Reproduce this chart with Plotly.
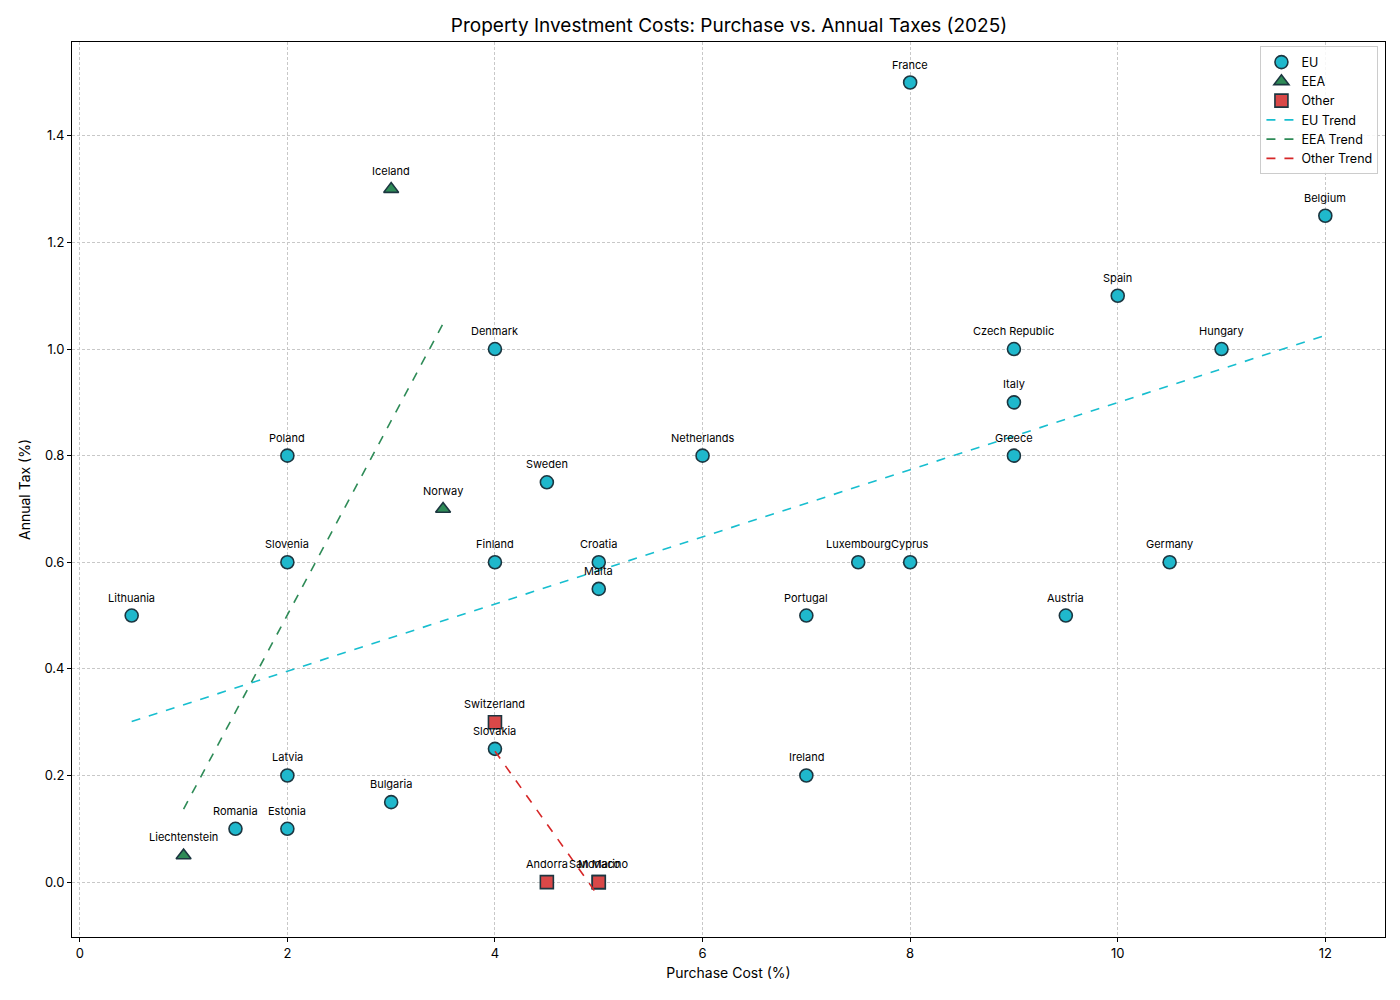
import numpy as np
import plotly.graph_objects as go

# --- data ---
EU_NAMES = [
    "France", "Belgium", "Spain", "Czech Republic", "Hungary", "Italy", "Greece",
    "Denmark", "Poland", "Netherlands", "Sweden", "Slovenia", "Finland", "Croatia",
    "Malta", "Luxembourg", "Cyprus", "Germany", "Lithuania", "Portugal", "Austria",
    "Slovakia", "Latvia", "Ireland", "Bulgaria", "Romania", "Estonia",
]
EU_PURCHASE = [8, 12, 10, 9, 11, 9, 9, 4, 2, 6, 4.5, 2, 4, 5, 5, 7.5, 8, 10.5,
               0.5, 7, 9.5, 4, 2, 7, 3, 1.5, 2]
EU_TAX = [1.5, 1.25, 1.1, 1.0, 1.0, 0.9, 0.8, 1.0, 0.8, 0.8, 0.75, 0.6, 0.6, 0.6,
          0.55, 0.6, 0.6, 0.6, 0.5, 0.5, 0.5, 0.25, 0.2, 0.2, 0.15, 0.1, 0.1]

EEA_NAMES = ["Iceland", "Norway", "Liechtenstein"]
EEA_PURCHASE = [3, 3.5, 1]
EEA_TAX = [1.3, 0.7, 0.05]

OTHER_NAMES = ["Switzerland", "Andorra", "San Marino", "Monaco"]
OTHER_PURCHASE = [4, 4.5, 5, 5]
OTHER_TAX = [0.3, 0.0, 0.0, 0.0]

FONT = "Inter"
EDGE = "#1c3640"
GROUPS = [
    ("EU", EU_NAMES, EU_PURCHASE, EU_TAX, "circle", "#1fb8cc", "#17becf"),
    ("EEA", EEA_NAMES, EEA_PURCHASE, EEA_TAX, "triangle-up", "#2e8b57", "#2e8b57"),
    ("Other", OTHER_NAMES, OTHER_PURCHASE, OTHER_TAX, "square", "#d94848", "#d62728"),
]

fig = go.Figure()
annotations = []

for name, labels, xs, ys, symbol, color, _ in GROUPS:
    fig.add_trace(go.Scatter(
        x=xs, y=ys, mode="markers", name=name,
        marker=dict(symbol=symbol, size=13, color=color,
                    line=dict(color=EDGE, width=1.6)),
        text=labels, hovertemplate="%{text}<br>%{x}% / %{y}%<extra></extra>",
    ))
    # country names sit just above each marker (San Marino / Monaco share a spot)
    for lbl, x, y in zip(labels, xs, ys):
        annotations.append(dict(
            x=x, y=y, text=lbl, showarrow=False, yshift=18,
            font=dict(size=11, color="black", family=FONT),
        ))

# linear trend per group
for name, _, xs, ys, _, _, line_color in GROUPS:
    slope, icpt = np.polyfit(xs, ys, 1)
    tx = np.array([min(xs), max(xs)])
    fig.add_trace(go.Scatter(
        x=tx, y=slope * tx + icpt, mode="lines", name=f"{name} Trend",
        line=dict(color=line_color, width=1.6, dash="dash"),
        hoverinfo="skip",
    ))

axis_common = dict(
    showline=True, linecolor="black", linewidth=1, mirror=True,
    ticks="outside", ticklen=4, tickcolor="black",
    showgrid=True, gridcolor="#c8c8c8", gridwidth=0.5, griddash="3px,2px",
    zeroline=False, tickfont=dict(size=13, color="black", family=FONT),
)

fig.update_layout(
    width=1400, height=1000,
    title=dict(text="Property Investment Costs: Purchase vs. Annual Taxes (2025)",
               x=0.515, xanchor="center", y=0.983, yanchor="middle",
               font=dict(size=19, color="black", family=FONT)),
    xaxis=dict(axis_common, range=[-0.075, 12.575], dtick=2,
               title=dict(text="Purchase Cost (%)", standoff=8,
                          font=dict(size=14, color="black", family=FONT))),
    yaxis=dict(axis_common, range=[-0.103, 1.576], dtick=0.2, tickformat=".1f",
               title=dict(text="Annual Tax (%)", standoff=10,
                          font=dict(size=14, color="black", family=FONT))),
    legend=dict(x=0.995, y=0.995, xanchor="right", yanchor="top",
                bgcolor="rgba(255,255,255,0.85)", bordercolor="#cccccc",
                borderwidth=1, font=dict(size=12.5, color="black", family=FONT),
                tracegroupgap=0, itemwidth=30),
    annotations=annotations,
    margin=dict(l=64, r=23, t=34, b=71),
    paper_bgcolor="white", plot_bgcolor="white",
    font=dict(family=FONT),
)

fig.write_html("out.html")
